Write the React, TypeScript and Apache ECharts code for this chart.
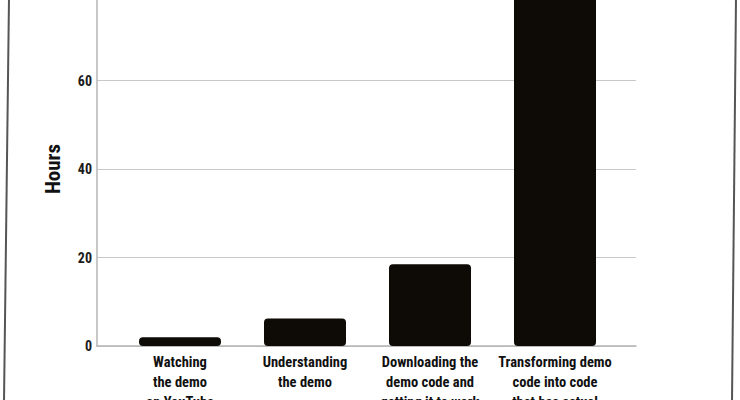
import React, { useEffect, useRef } from "react";
import * as echarts from "echarts";

const categories: string[] = [
  "Watching\nthe demo\non YouTube",
  "Understanding\nthe demo",
  "Downloading the\ndemo code and\ngetting it to work",
  "Transforming demo\ncode into code\nthat has actual",
];
const hours: number[] = [2, 6.2, 18.5, 95];
const yTicks = { min: 0, max: 80, interval: 20 };
const yTitle = "Hours";

const FONT = "'Roboto Condensed', 'Open Sans Condensed', 'Liberation Sans', sans-serif";

export default function App() {
  const ref = useRef<HTMLDivElement>(null);
  useEffect(() => {
    if (!ref.current) return;
    const chart = echarts.init(ref.current, null, { renderer: "svg" });
    chart.setOption({
      animation: false,
      backgroundColor: "#ffffff",
      grid: { left: 97, right: 104, top: -8, bottom: 54, containLabel: false, outerBoundsMode: "none" },
      xAxis: {
        type: "value",
        min: -0.664,
        max: 3.648,
        axisLine: { show: true, onZero: false, lineStyle: { color: "#b5b5b5", width: 1.5 } },
        axisTick: { show: false },
        splitLine: { show: false },
        axisLabel: {
          customValues: [0, 1, 2, 3],
          formatter: (v: number) => categories[Math.round(v)] ?? "",
          hideOverlap: false,
          showMinLabel: true,
          showMaxLabel: true,
          color: "#111",
          fontFamily: FONT,
          fontWeight: "bold",
          fontSize: 14.5,
          lineHeight: 20,
          margin: 6,
          align: "center",
        },
      },
      yAxis: {
        type: "value",
        min: yTicks.min,
        max: yTicks.max,
        interval: yTicks.interval,
        name: yTitle,
        nameLocation: "middle",
        nameRotate: 90,
        nameGap: 34,
        nameTextStyle: { fontFamily: FONT, fontWeight: "bold", fontSize: 21, color: "#111" },
        axisLine: { show: true, onZero: false, lineStyle: { color: "#b5b5b5", width: 1.5 } },
        axisTick: { show: false },
        splitLine: { show: true, lineStyle: { color: "#c8c8c8", width: 1.2 } },
        axisLabel: {
          color: "#1a1a1a",
          fontFamily: FONT,
          fontWeight: "bold",
          fontSize: 14,
          margin: 5,
          showMaxLabel: false,
        },
      },
      series: [
        {
          type: "bar",
          data: hours.map((h, i) => [i, h]),
          barWidth: 82,
          clip: true,
          itemStyle: { color: "#0e0b07", borderRadius: 4 },
        },
      ],
      graphic: [
        { type: "line", shape: { x1: 9, y1: -2, x2: 4, y2: 402 }, style: { stroke: "#555", lineWidth: 2 } },
        { type: "line", shape: { x1: 736, y1: -2, x2: 732, y2: 402 }, style: { stroke: "#555", lineWidth: 2 } },
      ],
    });
    return () => chart.dispose();
  }, []);
  return <div ref={ref} style={{ width: 740, height: 400, position: "absolute", left: 0, top: 0 }} />;
}
